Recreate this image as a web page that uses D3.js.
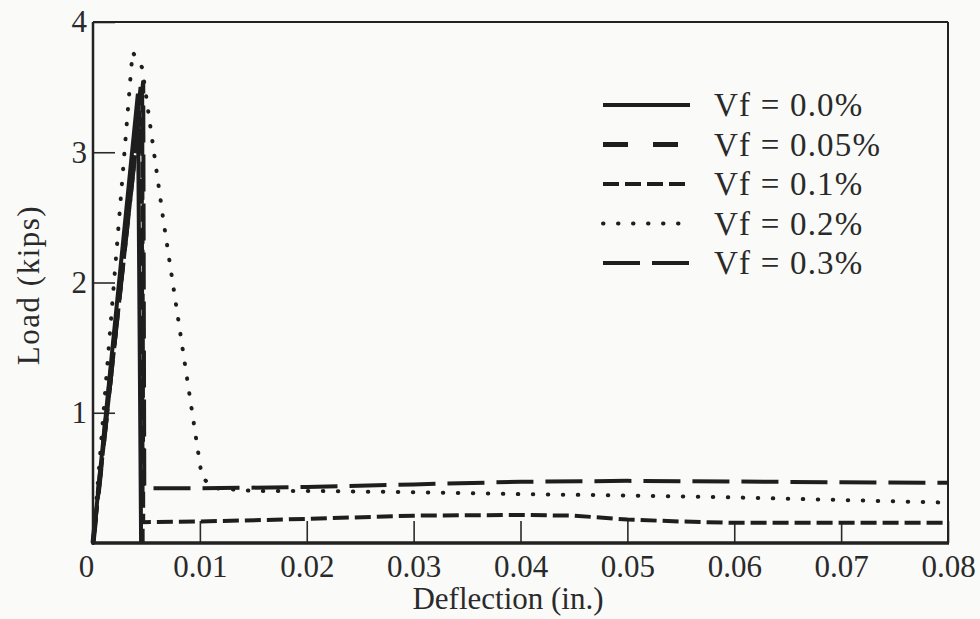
<!DOCTYPE html>
<html><head><meta charset="utf-8">
<script src="https://cdn.jsdelivr.net/npm/d3@7"></script>
<style>
body{margin:0;background:#fafaf8;}
text{font-family:"Liberation Serif","Times New Roman",serif;fill:#2a2a2a;}
</style></head><body>
<svg id="c" width="980" height="619"></svg>
<script>
// ---- data ----
const xTicks = [0, 0.01, 0.02, 0.03, 0.04, 0.05, 0.06, 0.07, 0.08];
const xTickLabels = ["0", "0.01", "0.02", "0.03", "0.04", "0.05", "0.06", "0.07", "0.08"];
const yTicks = [1, 2, 3, 4];
const yTickLabels = ["1", "2", "3", "4"];
const seriesNames = ["Vf = 0.0%", "Vf = 0.05%", "Vf = 0.1%", "Vf = 0.2%", "Vf = 0.3%"];

const defl00 = [0, 0.0042, 0.0045];
const load00 = [0, 3.45, 0];

const defl005 = [0, 0.0045, 0.0046];
const load005 = [0, 3.50, 0];

const defl01 = [0, 0.0046, 0.0047, 0.010, 0.020, 0.030, 0.040, 0.045, 0.050, 0.055, 0.060, 0.070, 0.080];
const load01 = [0, 3.48, 0.16, 0.165, 0.185, 0.21, 0.215, 0.21, 0.18, 0.165, 0.155, 0.155, 0.155];

const defl02 = [0, 0.0037, 0.0046, 0.0066, 0.0089, 0.0102, 0.0115, 0.015, 0.020, 0.030, 0.040, 0.050, 0.060, 0.070, 0.080];
const load02 = [0, 3.77, 3.65, 2.47, 1.21, 0.50, 0.42, 0.40, 0.40, 0.39, 0.375, 0.365, 0.35, 0.33, 0.31];

const defl03 = [0, 0.0047, 0.0048, 0.010, 0.020, 0.030, 0.040, 0.050, 0.060, 0.070, 0.080];
const load03 = [0, 3.55, 0.42, 0.42, 0.43, 0.45, 0.47, 0.477, 0.472, 0.466, 0.462];

// ---- layout ----
const svg = d3.select("#c");
const L = 93, R = 948, T = 22, B = 543;
const x = d3.scaleLinear().domain([0, 0.08]).range([L, R]);
const y = d3.scaleLinear().domain([0, 4]).range([B, T]);

const styles = [
  {dash: null, w: 4, cap: "butt"},
  {dash: "25,25", w: 5, cap: "butt"},
  {dash: "16,6", w: 4, cap: "butt"},
  {dash: "0.5,14.5", w: 4, cap: "round"},
  {dash: "37,12", w: 4, cap: "butt"}
];
const series = [
  [defl00, load00], [defl005, load005], [defl01, load01], [defl02, load02], [defl03, load03]
];

// axes (ticks inward)
const xAxis = d3.axisBottom(x).tickValues(xTicks).tickSize(-22).tickPadding(9)
  .tickFormat((d, i) => xTickLabels[i]);
const gx = svg.append("g").attr("transform", `translate(0,${B})`).call(xAxis);
gx.select(".domain").remove();
gx.selectAll(".tick line").attr("stroke", "#2a2a2a").attr("stroke-width", 1.6);
gx.selectAll(".tick text").attr("font-size", 31).attr("dy", "0.8em").attr("fill", "#2a2a2a")
  .attr("dx", (d, i) => i === 0 ? -7 : 0);

const yAxis = d3.axisLeft(y).tickValues(yTicks).tickSize(-22).tickPadding(6)
  .tickFormat((d, i) => yTickLabels[i]);
const gy = svg.append("g").attr("transform", `translate(${L},0)`).call(yAxis);
gy.select(".domain").remove();
gy.selectAll(".tick line").attr("stroke", "#2a2a2a").attr("stroke-width", 1.6);
gy.selectAll(".tick text").attr("font-size", 31).attr("fill", "#2a2a2a");

// curves
const line = d3.line().x(d => x(d[0])).y(d => y(d[1]));
series.forEach((s, i) => {
  const pts = s[0].map((v, k) => [v, s[1][k]]);
  svg.append("path").attr("d", line(pts)).attr("fill", "none")
    .attr("stroke", "#1e1e1e").attr("stroke-width", styles[i].w)
    .attr("stroke-linecap", styles[i].cap).attr("stroke-linejoin", "miter")
    .attr("stroke-dasharray", styles[i].dash);
});

// frame
svg.append("line").attr("x1", L).attr("x2", L).attr("y1", T).attr("y2", B).attr("stroke", "#222").attr("stroke-width", 2.5);
svg.append("line").attr("x1", L).attr("x2", R).attr("y1", T).attr("y2", T).attr("stroke", "#222").attr("stroke-width", 2.2);
svg.append("line").attr("x1", R).attr("x2", R).attr("y1", T).attr("y2", B).attr("stroke", "#222").attr("stroke-width", 2);
svg.append("line").attr("x1", L - 1).attr("x2", R + 1).attr("y1", B).attr("y2", B).attr("stroke", "#222").attr("stroke-width", 3.5);

// axis titles
svg.append("text").attr("x", 508).attr("y", 609).attr("text-anchor", "middle")
  .attr("font-size", 31).text("Deflection (in.)");
svg.append("text").attr("transform", "translate(39,285) rotate(-90)").attr("text-anchor", "middle")
  .attr("font-size", 31).attr("letter-spacing", 1.5).text("Load (kips)");

// legend
const lg = svg.append("g");
seriesNames.forEach((name, i) => {
  const yy = 105 + i * 39.5;
  lg.append("line").attr("x1", 603).attr("x2", 690).attr("y1", yy).attr("y2", yy)
    .attr("stroke", "#1e1e1e").attr("stroke-width", styles[i].w)
    .attr("stroke-linecap", styles[i].cap).attr("stroke-dasharray", styles[i].dash);
  lg.append("text").attr("x", 714).attr("y", yy + 11).attr("font-size", 33)
    .attr("letter-spacing", 1.2).text(name);
});
</script>
</body></html>
